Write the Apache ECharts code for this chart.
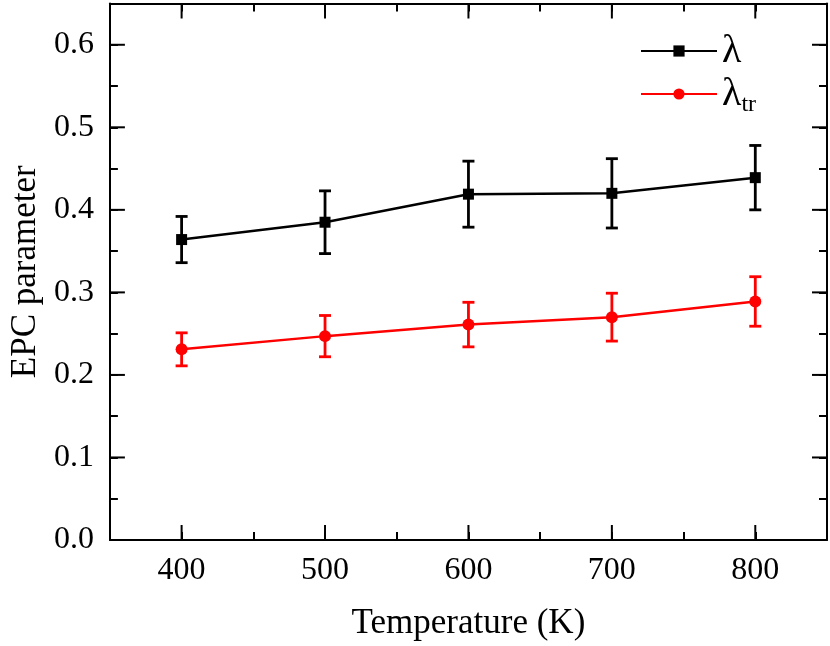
<!DOCTYPE html>
<html><head><meta charset="utf-8">
<script src="https://cdn.jsdelivr.net/npm/echarts@6/dist/echarts.min.js"></script>
<style>html,body{margin:0;padding:0;background:#fff}#c{width:830px;height:646px}</style>
</head><body><div id="c"></div>
<script>
// ---- data ----
const temperatures = [400, 500, 600, 700, 800];
const lambda = [0.364, 0.385, 0.419, 0.420, 0.439];
const lambdaErr = [0.028, 0.038, 0.040, 0.042, 0.039];
const lambdaTr = [0.231, 0.247, 0.261, 0.270, 0.289];
const lambdaTrErr = [0.020, 0.025, 0.027, 0.029, 0.030];
const xMajorTicks = [400, 500, 600, 700, 800];
const yMajorTicks = [0, 0.1, 0.2, 0.3, 0.4, 0.5, 0.6];
const seriesNames = ['λ', 'λtr'];
const xName = 'Temperature (K)';
const yName = 'EPC parameter';
const X_MIN = 350, X_MAX = 850, Y_MIN = 0, Y_MAX = 0.65;

const FONT = 'Liberation Serif';
const chart = echarts.init(document.getElementById('c'), null, {renderer: 'canvas'});

function errData(vals, errs) {
  return temperatures.map((t, i) => [t, vals[i] - errs[i], vals[i] + errs[i]]);
}
function errItem(color) {
  return function (params, api) {
    const x = api.value(0);
    const lo = api.coord([x, api.value(1)]);
    const hi = api.coord([x, api.value(2)]);
    const hw = 6;
    const st = {stroke: color, lineWidth: 2.8};
    return {type: 'group', children: [
      {type: 'line', shape: {x1: lo[0], y1: lo[1], x2: hi[0], y2: hi[1]}, style: st},
      {type: 'line', shape: {x1: lo[0] - hw, y1: lo[1], x2: lo[0] + hw, y2: lo[1]}, style: st},
      {type: 'line', shape: {x1: hi[0] - hw, y1: hi[1], x2: hi[0] + hw, y2: hi[1]}, style: st}
    ]};
  };
}
const MAJ = 15;
function xTickItem(params, api) {
  const v = api.value(0);
  const b = api.coord([v, Y_MIN]);
  const t = api.coord([v, Y_MAX]);
  const st = {stroke: '#000', lineWidth: 2};
  return {type: 'group', children: [
    {type: 'line', shape: {x1: b[0], y1: b[1], x2: b[0], y2: b[1] - MAJ}, style: st},
    {type: 'line', shape: {x1: t[0], y1: t[1], x2: t[0], y2: t[1] + MAJ}, style: st}
  ]};
}
function yTickItem(params, api) {
  const v = api.value(1);
  const l = api.coord([X_MIN, v]);
  const r = api.coord([X_MAX, v]);
  const st = {stroke: '#000', lineWidth: 2};
  return {type: 'group', children: [
    {type: 'line', shape: {x1: l[0], y1: l[1], x2: l[0] + MAJ, y2: l[1]}, style: st},
    {type: 'line', shape: {x1: r[0], y1: r[1], x2: r[0] - MAJ, y2: r[1]}, style: st}
  ]};
}

const axisLine = {show: true, onZero: false, lineStyle: {color: '#000', width: 2}};
const minorTick = {show: true, inside: true, length: 8, lineStyle: {color: '#000', width: 2}};

const option = {
  backgroundColor: '#fff',
  animation: false,
  grid: {left: 108, right: 3, top: 3.5, bottom: 104, containLabel: false},
  legend: {
    orient: 'vertical',
    left: 640,
    top: 31,
    padding: 0,
    itemWidth: 76,
    itemHeight: 14,
    itemGap: 3,
    data: seriesNames,
    formatter: function (name) {
      return name === 'λtr' ? '{a|λ}{b|tr}' : '{a|λ}';
    },
    textStyle: {
      fontFamily: FONT, fontSize: 40, color: '#000',
      rich: {
        a: {fontFamily: FONT, fontSize: 40, color: '#000'},
        b: {fontFamily: FONT, fontSize: 24, color: '#000', padding: [22, 0, 0, 0]}
      }
    }
  },
  xAxis: [
    {
      type: 'value', position: 'bottom', min: X_MIN, max: X_MAX, interval: 50,
      name: xName, nameLocation: 'middle', nameGap: 66,
      nameTextStyle: {fontFamily: FONT, fontSize: 35, color: '#000'},
      axisLine: axisLine, axisTick: minorTick, splitLine: {show: false},
      axisLabel: {
        fontFamily: FONT, fontSize: 32, color: '#000', margin: 15,
        formatter: v => (Math.round(v) % 100 === 0 ? String(Math.round(v)) : '')
      }
    },
    {
      type: 'value', position: 'top', min: X_MIN, max: X_MAX, interval: 50,
      axisLine: axisLine, axisTick: minorTick, splitLine: {show: false},
      axisLabel: {show: false}
    }
  ],
  yAxis: [
    {
      type: 'value', position: 'left', min: Y_MIN, max: Y_MAX, interval: 0.05,
      name: yName, nameLocation: 'middle', nameGap: 63, nameRotate: 90,
      nameTextStyle: {fontFamily: FONT, fontSize: 35, color: '#000'},
      axisLine: axisLine, axisTick: minorTick, splitLine: {show: false},
      axisLabel: {
        fontFamily: FONT, fontSize: 32, color: '#000', margin: 16,
        formatter: v => (Math.round(v * 100) % 10 === 0 ? v.toFixed(1) : '')
      }
    },
    {
      type: 'value', position: 'right', min: Y_MIN, max: Y_MAX, interval: 0.05,
      axisLine: axisLine, axisTick: minorTick, splitLine: {show: false},
      axisLabel: {show: false}
    }
  ],
  series: [
    {
      name: 'λ', type: 'line', xAxisIndex: 0, yAxisIndex: 0,
      data: temperatures.map((t, i) => [t, lambda[i]]),
      symbol: 'rect', symbolSize: 11, z: 5,
      lineStyle: {color: '#000', width: 2.5}, itemStyle: {color: '#000'}
    },
    {
      name: 'λtr', type: 'line', xAxisIndex: 0, yAxisIndex: 0,
      data: temperatures.map((t, i) => [t, lambdaTr[i]]),
      symbol: 'circle', symbolSize: 12, z: 5,
      lineStyle: {color: '#ff0000', width: 2.5}, itemStyle: {color: '#ff0000'}
    },
    {
      name: 'λ error', type: 'custom', xAxisIndex: 0, yAxisIndex: 0, z: 4, silent: true,
      renderItem: errItem('#000'), encode: {x: 0, y: [1, 2]},
      data: errData(lambda, lambdaErr)
    },
    {
      name: 'λtr error', type: 'custom', xAxisIndex: 0, yAxisIndex: 0, z: 4, silent: true,
      renderItem: errItem('#ff0000'), encode: {x: 0, y: [1, 2]},
      data: errData(lambdaTr, lambdaTrErr)
    },
    {
      name: 'x major ticks', type: 'custom', xAxisIndex: 0, yAxisIndex: 0, silent: true,
      renderItem: xTickItem, encode: {x: 0, y: 1},
      data: xMajorTicks.map(v => [v, Y_MIN])
    },
    {
      name: 'y major ticks', type: 'custom', xAxisIndex: 0, yAxisIndex: 0, silent: true,
      renderItem: yTickItem, encode: {x: 0, y: 1},
      data: yMajorTicks.map(v => [X_MIN, v])
    }
  ]
};
chart.setOption(option);
</script>
</body></html>
